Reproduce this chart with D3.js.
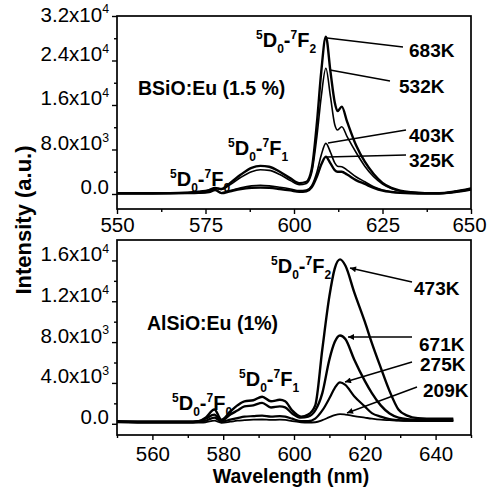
<!DOCTYPE html>
<html>
<head>
<meta charset="utf-8">
<script src="https://d3js.org/d3.v7.min.js"></script>
<style>
  body { margin: 0; background: #fff; }
  svg text { font-family: "Liberation Sans", Arial, sans-serif; fill: #000; }
</style>
</head>
<body>
<div id="chart"></div>
<script>
// ---- BSiO:Eu (1.5 %) spectra ----
var topWavelengths = [550, 560, 570, 573, 576, 577.7, 579.5, 582, 585, 588, 590.5, 593, 596, 599, 601.5, 603.5, 605, 606.5, 607.7, 609, 610.3, 611.5, 612.3, 613.5, 615, 617.5, 620, 622.5, 625, 627.5, 630, 633, 637, 641, 645, 650];
var bsio683 = [150, 150, 250, 400, 700, 1100, 900, 2000, 3500, 4700, 5050, 4900, 4000, 2800, 1950, 2200, 4500, 13000, 22000, 28300, 22000, 16500, 14900, 15700, 13000, 8800, 5800, 3600, 2000, 1100, 600, 300, 150, 150, 400, 1000];
var bsio532 = [150, 150, 250, 380, 650, 1000, 800, 1700, 3000, 4000, 4350, 4250, 3500, 2400, 1650, 1900, 3800, 10500, 17500, 22600, 17500, 12500, 11500, 12100, 10300, 7500, 5000, 3100, 1800, 1000, 550, 300, 150, 150, 400, 1000];
var bsio403 = [100, 100, 150, 200, 400, 800, 200, 600, 1100, 1450, 1550, 1450, 1200, 900, 600, 700, 1500, 4000, 7000, 9100, 7500, 5600, 5000, 4900, 4300, 3100, 2200, 1300, 700, 400, 250, 150, 100, 100, 300, 800];
var bsio325 = [100, 100, 150, 200, 350, 700, 150, 500, 900, 1100, 1150, 1100, 900, 650, 400, 500, 1200, 3200, 5300, 6700, 5500, 4300, 4000, 4000, 3500, 2500, 1800, 1100, 600, 350, 200, 120, 100, 100, 300, 800];

// ---- AlSiO:Eu (1%) spectra ----
var botWavelengths = [550, 560, 570, 573, 575, 577.5, 579.5, 582, 584, 586, 588.5, 591, 593.5, 596, 597.5, 599.5, 602, 604, 606, 608, 610, 611.5, 613, 614.5, 617, 620, 622, 624.5, 627, 629.5, 632, 635, 640, 645];
var alsio473 = [250, 200, 200, 250, 600, 1400, 400, 1200, 1800, 2200, 2300, 2650, 2200, 2350, 2200, 1300, 700, 900, 1800, 7300, 12500, 15200, 16100, 15500, 12900, 10000, 7900, 5500, 3200, 1400, 800, 550, 500, 500];
var alsio671 = [200, 200, 200, 250, 500, 900, 300, 900, 1300, 1700, 1800, 2050, 1600, 1700, 1600, 1000, 600, 700, 1300, 3000, 6300, 8000, 8650, 8300, 6300, 4200, 3000, 1800, 1000, 600, 450, 400, 400, 400];
var alsio275 = [200, 150, 150, 200, 300, 600, 200, 400, 550, 700, 750, 800, 700, 750, 700, 500, 250, 250, 500, 1300, 2500, 3500, 4050, 3800, 2700, 1700, 1050, 700, 450, 350, 300, 300, 300, 300];
var alsio209 = [150, 100, 100, 120, 150, 300, 100, 200, 300, 350, 400, 420, 380, 400, 380, 250, 150, 120, 150, 350, 650, 850, 950, 900, 750, 600, 500, 400, 350, 300, 280, 270, 270, 270];

// ---- axis ticks ----
var topXTicks = [550, 575, 600, 625, 650];
var topYTicks = [0, 8000, 16000, 24000, 32000];
var topYLabels = ['0.0', '8.0x10^3', '1.6x10^4', '2.4x10^4', '3.2x10^4'];
var botXTicks = [560, 580, 600, 620, 640];
var botYTicks = [0, 4000, 8000, 12000, 16000];
var botYLabels = ['0.0', '4.0x10^3', '8.0x10^3', '1.2x10^4', '1.6x10^4'];

var W = 487, H = 489;
var TICK_FONT = 20.5;
var svg = d3.select('#chart').append('svg').attr('width', W).attr('height', H);

svg.append('defs').append('marker')
  .attr('id', 'arr').attr('viewBox', '0 0 10 10').attr('refX', 10).attr('refY', 5)
  .attr('markerWidth', 9).attr('markerHeight', 6).attr('markerUnits', 'userSpaceOnUse')
  .attr('orient', 'auto')
  .append('path').attr('d', 'M0,0 L10,5 L0,10 z').attr('fill', '#000');

// text with ^superscript and _subscript single chars
function richText(sel, str, size) {
  var re = /([\^_])(\w)|([^\^_]+)/g, m, off = 0;
  while ((m = re.exec(str))) {
    var t = sel.append('tspan');
    if (m[1]) {
      var target = m[1] === '^' ? -0.4 * size : 0.3 * size;
      t.attr('dy', target - off).attr('font-size', size * 0.6).text(m[2]);
      off = target;
    } else {
      t.attr('dy', -off).text(m[3]);
      off = 0;
    }
  }
}

function panel(cfg) {
  var x = d3.scaleLinear().domain([550, 650]).range([117, 471]);
  var y = d3.scaleLinear().domain(cfg.yDomain).range([cfg.bottom, cfg.top]);
  var g = svg.append('g');

  // minor ticks
  g.append('g').attr('transform', 'translate(0,' + cfg.bottom + ')')
    .call(d3.axisBottom(x).tickValues(cfg.xMinor).tickSize(3).tickFormat(''))
    .call(function (a) { a.select('.domain').remove(); });
  g.append('g').attr('transform', 'translate(117,0)')
    .call(d3.axisLeft(y).tickValues(cfg.yMinor).tickSize(3).tickFormat(''))
    .call(function (a) { a.select('.domain').remove(); });

  var xa = g.append('g').attr('transform', 'translate(0,' + cfg.bottom + ')')
    .call(d3.axisBottom(x).tickValues(cfg.xTicks).tickSize(5).tickPadding(cfg.xPad).tickFormat(d3.format('d')));
  xa.select('.domain').remove();
  xa.attr('font-size', TICK_FONT).attr('font-family', null);
  // keep the right-most label inside the window
  xa.selectAll('.tick text').filter(function (d) { return d === 650; }).attr('x', -2);

  var ya = g.append('g').attr('transform', 'translate(117,0)')
    .call(d3.axisLeft(y).tickValues(cfg.yTicks).tickSize(5).tickPadding(3));
  ya.select('.domain').remove();
  ya.attr('font-size', TICK_FONT).attr('font-family', null);
  ya.selectAll('.tick text').text(null).each(function (d, i) {
    richText(d3.select(this), cfg.yLabels[i], TICK_FONT);
  });
  if (cfg.top < 30) {
    ya.selectAll('.tick text').filter(function (d) { return d === 32000; }).attr('y', 5);
  }
  g.selectAll('.tick line').attr('stroke-width', 1.4);

  g.append('rect').attr('x', 117).attr('y', cfg.top)
    .attr('width', 354).attr('height', cfg.bottom - cfg.top)
    .attr('fill', 'none').attr('stroke', '#000').attr('stroke-width', 1.7);

  var line = d3.line().x(function (d) { return x(d[0]); }).y(function (d) { return y(d[1]); })
    .curve(d3.curveMonotoneX);
  cfg.series.forEach(function (s) {
    g.append('path').datum(d3.zip(cfg.wl, s.values))
      .attr('d', line).attr('fill', 'none').attr('stroke', '#000')
      .attr('stroke-width', s.w).attr('stroke-linejoin', 'round');
  });

  cfg.labels.forEach(function (l) {
    g.append('line').attr('x1', l.from[0]).attr('y1', l.from[1])
      .attr('x2', l.to[0]).attr('y2', l.to[1])
      .attr('stroke', '#000').attr('stroke-width', 1.5)
      .attr('marker-end', cfg.arrows ? 'url(#arr)' : null);
    g.append('text').attr('x', l.tx).attr('y', l.ty)
      .attr('font-size', 19).attr('font-weight', 'bold').text(l.name);
  });

  cfg.notes.forEach(function (n) {
    var t = g.append('text').attr('x', n.x).attr('y', n.y)
      .attr('font-size', n.size).attr('font-weight', 'bold');
    richText(t, n.text, n.size);
  });
}

panel({
  top: 16, bottom: 209, yDomain: [-2700, 32000], xPad: 3,
  xTicks: topXTicks, xMinor: [562.5, 587.5, 612.5, 637.5],
  yTicks: topYTicks, yLabels: topYLabels, yMinor: [4000, 12000, 20000, 28000],
  wl: topWavelengths,
  series: [
    {name: '683K', values: bsio683, w: 2.4},
    {name: '532K', values: bsio532, w: 1.6},
    {name: '403K', values: bsio403, w: 1.6},
    {name: '325K', values: bsio325, w: 2.4}
  ],
  arrows: false,
  labels: [
    {name: '683K', from: [403, 47], to: [327, 38], tx: 409, ty: 57},
    {name: '532K', from: [390, 81], to: [330, 70], tx: 399, ty: 93},
    {name: '403K', from: [406, 130], to: [328, 143], tx: 409, ty: 142},
    {name: '325K', from: [406, 155], to: [327, 157], tx: 409, ty: 167}
  ],
  notes: [
    {text: 'BSiO:Eu (1.5 %)', x: 138, y: 95, size: 19.5},
    {text: '^5D_0-^7F_2', x: 256, y: 47, size: 20},
    {text: '^5D_0-^7F_1', x: 228, y: 155, size: 20},
    {text: '^5D_0-^7F_0', x: 170, y: 186, size: 20}
  ]
});

panel({
  top: 240, bottom: 435, yDomain: [-1100, 18000], xPad: 6,
  xTicks: botXTicks, xMinor: [550, 570, 590, 610, 630, 650],
  yTicks: botYTicks, yLabels: botYLabels, yMinor: [2000, 6000, 10000, 14000],
  wl: botWavelengths,
  series: [
    {name: '473K', values: alsio473, w: 2.4},
    {name: '671K', values: alsio671, w: 2.4},
    {name: '275K', values: alsio275, w: 2.2},
    {name: '209K', values: alsio209, w: 1.8}
  ],
  arrows: true,
  labels: [
    {name: '473K', from: [412, 282], to: [350, 268], tx: 414, ty: 295},
    {name: '671K', from: [412, 337], to: [348, 337], tx: 419, ty: 351},
    {name: '275K', from: [412, 362], to: [345, 382], tx: 420, ty: 371},
    {name: '209K', from: [417, 387], to: [347, 413], tx: 423, ty: 397}
  ],
  notes: [
    {text: 'AlSiO:Eu (1%)', x: 147, y: 330, size: 19.5},
    {text: '^5D_0-^7F_2', x: 271, y: 273, size: 20},
    {text: '^5D_0-^7F_1', x: 239, y: 386, size: 20},
    {text: '^5D_0-^7F_0', x: 172, y: 410, size: 20}
  ]
});

svg.append('text').attr('transform', 'translate(31,220) rotate(-90)')
  .attr('text-anchor', 'middle').attr('font-size', 22).attr('font-weight', 'bold')
  .text('Intensity (a.u.)');
svg.append('text').attr('x', 291).attr('y', 483)
  .attr('text-anchor', 'middle').attr('font-size', 19.5).attr('font-weight', 'bold')
  .text('Wavelength (nm)');
</script>
</body>
</html>
